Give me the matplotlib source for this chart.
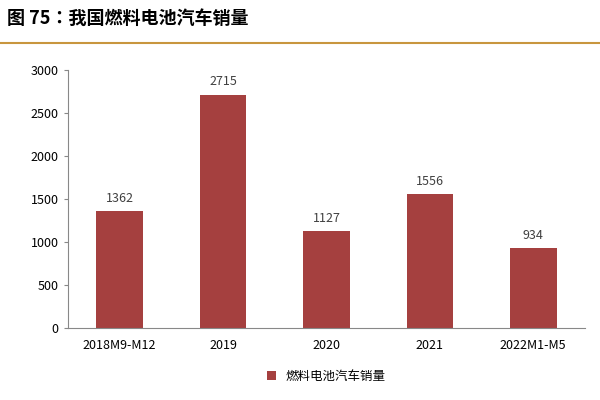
import matplotlib
matplotlib.use("Agg")
import matplotlib.pyplot as plt
from matplotlib.lines import Line2D
from matplotlib import font_manager as fm

categories = ["2018M9-M12", "2019", "2020", "2021", "2022M1-M5"]
values = [1362, 2715, 1127, 1556, 934]
yticks = [0, 500, 1000, 1500, 2000, 2500, 3000]
series_name = "燃料电池汽车销量"
title = "图 75：我国燃料电池汽车销量"

cjk_name = None
for f in fm.findSystemFonts():
    if "CJK" in f or "cjk" in f.lower():
        try:
            fm.fontManager.addfont(f)
        except Exception:
            pass
for fe in fm.fontManager.ttflist:
    if "CJK" in fe.name and ("SC" in fe.name or cjk_name is None):
        cjk_name = fe.name
        if "SC" in fe.name:
            break
plt.rcParams["font.family"] = [cjk_name or "Noto Sans CJK SC", "DejaVu Sans"]

fig = plt.figure(figsize=(6, 4), dpi=100)
fig.text(0.012, 0.955, title, fontsize=13, fontweight="bold", va="center", ha="left")
fig.add_artist(Line2D([0.0, 1.0], [0.893, 0.893], color="#C8963E", lw=1.5))

ax = fig.add_axes([0.113, 0.18, 0.862, 0.645])
color = "#A5403F"
ax.bar(range(len(categories)), values, width=0.45, color=color, label=series_name)
for i, v in enumerate(values):
    ax.text(i, v + 70, str(v), ha="center", va="bottom", fontsize=9, color="#404040")
ax.set_xticks(range(len(categories)))
ax.set_xticklabels(categories, fontsize=9)
ax.set_yticks(yticks)
ax.set_yticklabels([str(t) for t in yticks], fontsize=9)
ax.set_ylim(0, 3000)
ax.set_xlim(-0.5, len(categories) - 0.5)
for s in ["top", "right"]:
    ax.spines[s].set_visible(False)
ax.spines["left"].set_color("#888888")
ax.spines["bottom"].set_color("#888888")
ax.tick_params(axis="x", length=0, pad=8)
ax.tick_params(axis="y", length=3, color="#888888")
ax.legend(loc="upper center", bbox_to_anchor=(0.5, -0.12), frameon=False, fontsize=9,
          handlelength=0.7, handleheight=0.7)
fig.savefig("out.png", dpi=100)
